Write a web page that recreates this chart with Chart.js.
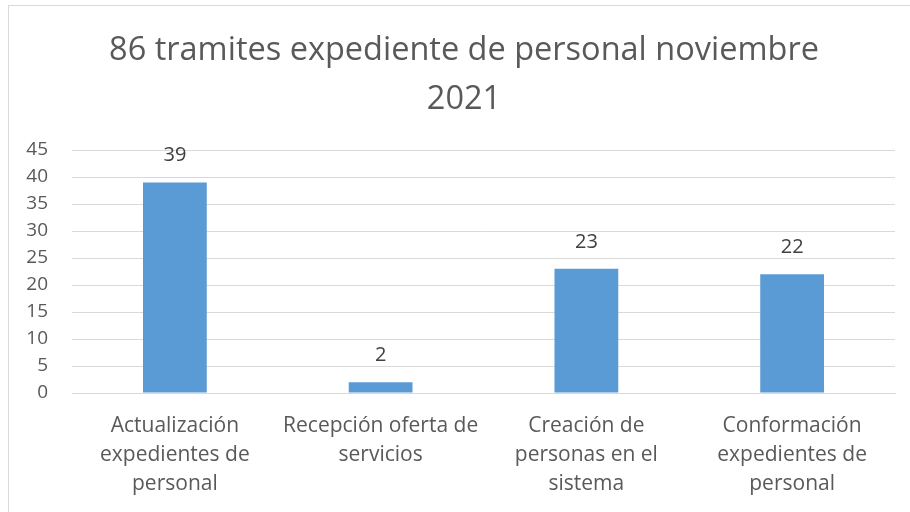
<!DOCTYPE html>
<html lang="es">
  <head>
    <meta charset="UTF-8">
    <script src="https://cdn.jsdelivr.net/npm/chart.js"></script>
    <style>
      html, body { margin: 0; padding: 0; background: #fff; overflow: hidden; }
      .frame {
        position: absolute; left: 8px; top: 5px;
        width: 1000px; height: 1000px;
        border: 1px solid #d9d9d9;
      }
      .chart-container { position: absolute; left: 0; top: 0; width: 910px; height: 512px; }
    </style>
  </head>
  <body>
    <div class="frame"></div>
    <div class="chart-container">
      <canvas id="tramitesChart" width="910" height="512"></canvas>
    </div>

<script>
  // categorias y cantidades de tramites
  const categories = [
    ['Actualización', 'expedientes de', 'personal'],
    ['Recepción oferta de', 'servicios'],
    ['Creación de', 'personas en el', 'sistema'],
    ['Conformación', 'expedientes de', 'personal']
  ];
  const tramites = [39, 2, 23, 22];
  const yTicks = { min: 0, max: 45, step: 5 };

  const fontFamily = '"Open Sans", Lato, sans-serif';

  // etiqueta con el valor encima de cada barra
  const valueLabels = {
    id: 'valueLabels',
    afterDatasetsDraw(chart) {
      const ctx = chart.ctx;
      const meta = chart.getDatasetMeta(0);
      ctx.save();
      ctx.font = '20px ' + fontFamily;
      ctx.fillStyle = '#404040';
      ctx.textAlign = 'center';
      ctx.textBaseline = 'middle';
      meta.data.forEach(function(bar, i) {
        ctx.fillText(tramites[i], bar.x, bar.y - 27);
      });
      ctx.restore();
    }
  };

  // el titulo va centrado dentro del marco, no en todo el canvas
  const titleShift = {
    id: 'titleShift',
    afterLayout(chart) {
      const t = chart.titleBlock;
      if (!t) return;
      t.left = 33;
      t.right = 895;
      t.width = t.right - t.left;
    }
  };

  const config = {
    type: 'bar',
    data: {
      labels: categories,
      datasets: [{
        data: tramites,
        backgroundColor: '#5b9bd5',
        borderWidth: 0,
        barPercentage: 0.31,
        categoryPercentage: 1
      }]
    },
    options: {
      responsive: false,
      animation: false,
      layout: { padding: { left: 0, right: 15, top: 0, bottom: 0 } },
      plugins: {
        legend: { display: false },
        tooltip: { enabled: false },
        title: {
          display: true,
          text: ['86 tramites expediente de personal noviembre', '2021'],
          color: '#595959',
          font: { family: fontFamily, size: 32.5, weight: 'normal', lineHeight: 1.508 },
          padding: { top: 26, bottom: 26 }
        }
      },
      scales: {
        y: {
          min: yTicks.min,
          max: yTicks.max,
          afterFit(scale) { scale.width = 72; },
          ticks: {
            stepSize: yTicks.step,
            color: '#595959',
            padding: 24,
            font: { family: fontFamily, size: 19 }
          },
          grid: { color: '#d9d9d9', drawTicks: false },
          border: { display: false }
        },
        x: {
          afterFit(scale) { scale.height = 119; },
          ticks: {
            color: '#595959',
            padding: 11,
            maxRotation: 0,
            autoSkip: false,
            font: { family: fontFamily, size: 21, lineHeight: 1.38 }
          },
          grid: { display: false },
          border: { display: true, color: '#d9d9d9' }
        }
      }
    },
    plugins: [valueLabels, titleShift]
  };

  new Chart(document.getElementById('tramitesChart'), config);
</script>
  </body>
</html>
